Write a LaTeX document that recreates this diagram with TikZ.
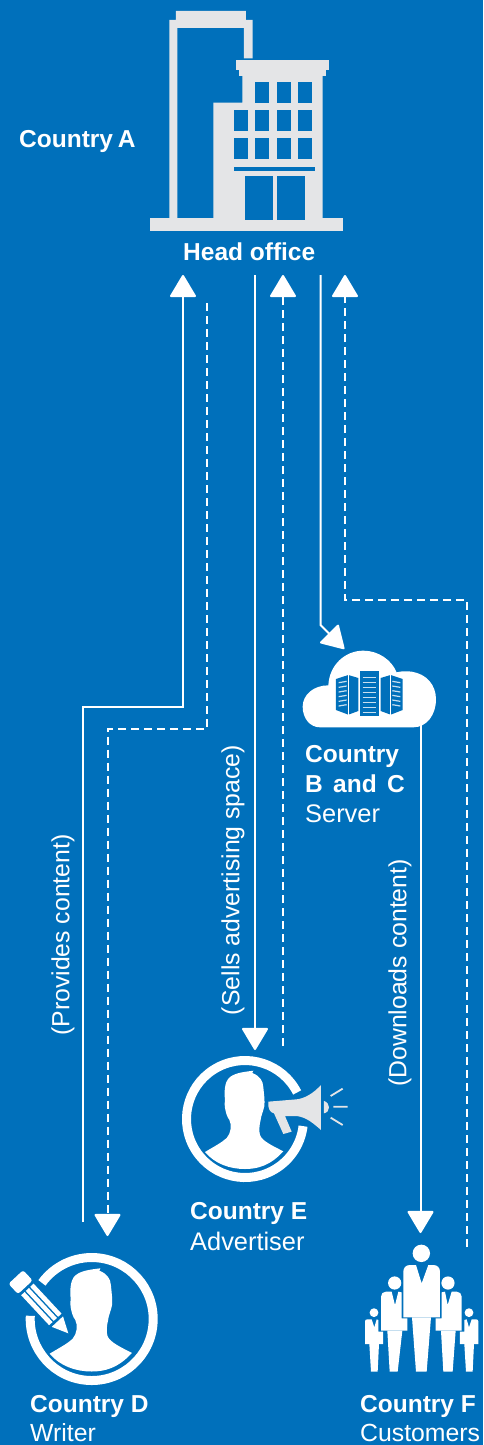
\documentclass[tikz,border=0pt]{standalone}
\usepackage{fontspec}
\setmainfont{Liberation Sans}
\usetikzlibrary{arrows.meta}
\definecolor{bg}{HTML}{0070BB}
\definecolor{lg}{HTML}{E4E5E7}
\definecolor{st}{HTML}{C9E0F0}
\tikzset{
  lab/.style={text=white,font=\fontsize{25.4}{27}\selectfont,anchor=base west,inner sep=0pt},
  labs/.style={lab,font=\fontsize{24.8}{27}\selectfont},
  labb/.style={text=white,font=\fontsize{24.5}{27}\selectfont\bfseries,anchor=base west,inner sep=0pt},
  rot/.style={text=white,font=\fontsize{24.8}{27}\selectfont,rotate=90,inner sep=0pt},
  link/.style={draw=white,line width=2pt},
  flow/.style={link,-{Triangle[width=27pt,length=23pt,round=false]}},
  flowd/.style={flow,dash pattern=on 8pt off 5pt},
  zoomed/.style={x=0.3333pt,y=-0.3333pt},
}
\newcommand{\personshape}{%
  \fill[white] (-40,33) .. controls (-30,27) and (-24,24) .. (-18.3,19)
    .. controls (-14,14) and (-13,6) .. (-15.7,0.7)
    .. controls (-18,-2) and (-19,-6) .. (-20,-11)
    .. controls (-21,-14) and (-20,-16) .. (-20,-19)
    .. controls (-21,-28) and (-20,-36) .. (-17,-40)
    .. controls (-12,-46) and (-2,-47) .. (8.3,-48.3)
    -- (7.3,-46)
    .. controls (15,-43) and (18,-38) .. (18.3,-32)
    .. controls (19,-25) and (20,-18) .. (19.3,-12.7)
    .. controls (18,-7) and (16,-3) .. (15.7,0.7)
    .. controls (14,8) and (14,12) .. (15,16)
    .. controls (17,22) and (28,27) .. (38.3,32.3)
    .. controls (25,47) and (12,50) .. (0,50)
    .. controls (-15,50) and (-30,45) .. (-40,33) -- cycle;
}
\begin{document}
\begin{tikzpicture}[x=1pt,y=-1pt]
\useasboundingbox (0,0) rectangle (483,1445);
\fill[bg] (0,0) rectangle (483,1445);

% ---- building
\begin{scope}[shift={(130,0)},zoomed]
\fill[lg] (118,60) -- (138,60) -- (138,33) -- (348,33) -- (348,60) -- (368,60) -- (368,175) -- (342,175) -- (342,84) -- (142,84) -- (142,655) -- (118,655) -- cycle;
\fill[lg] (61,655) rectangle (639,692);
\fill[lg] (318,180) rectangle (597,210);
\fill[lg] (327,210) rectangle (588,228);
\fill[lg] (337,228) -- (578,228) -- (578,660) -- (250,660) -- (250,308) -- (337,308) -- cycle;
\foreach \xa/\xb in {376/418,440/482,504/545} \fill[bg] (\xa,245) rectangle (\xb,310);
\foreach \xa/\xb in {312/354,376/418,440/482,504/545} {
  \fill[bg] (\xa,329) rectangle (\xb,394);
  \fill[bg] (\xa,413) rectangle (\xb,478);
}
\fill[bg] (312,500) rectangle (555,512);
\fill[bg] (346,528) rectangle (429,660);
\fill[bg] (441,528) rectangle (524,660);
\end{scope}

% ---- cloud
\begin{scope}[shift={(290,610)},zoomed]
\fill[white] (90,352) .. controls (60,352) and (38,325) .. (38,290)
  .. controls (38,255) and (70,226) .. (115,226)
  .. controls (118,165) and (165,122) .. (220,122)
  .. controls (265,122) and (305,150) .. (320,187)
  .. controls (335,183) and (350,183) .. (365,185)
  .. controls (410,192) and (438,225) .. (438,268)
  .. controls (438,315) and (410,352) .. (370,352) -- cycle;
\fill[bg] (211,183) rectangle (266,317);
\fill[bg] (138,207) -- (175,195) -- (205,204) -- (205,303) -- (175,314) -- (138,300) -- cycle;
\fill[bg] (272,204) -- (302,195) -- (338,207) -- (338,300) -- (302,314) -- (272,303) -- cycle;
\draw[white,line width=0.8pt] (176,195) -- (176,314) (301,195) -- (301,314);
\foreach \yy in {203,218,232,247,262,277,292,307} \draw[st,line width=1.3pt] (218,\yy) -- (259,\yy);
\foreach \yy in {218,232,246,260,274,288} {
  \draw[st,line width=1.2pt] (146,\yy) -- (170,\yy-4);
  \draw[st,line width=1.2pt] (307,\yy-4) -- (331,\yy);
}
\end{scope}

% ---- advertiser
\begin{scope}[shift={(245,1119)}]
\draw[white,line width=9pt] (-27:58.5) arc[start angle=-27,end angle=-353,radius=58.5];
\personshape
\end{scope}
\begin{scope}[shift={(170,1030)},zoomed]
\fill[lg] (295,215) -- (380,208) .. controls (405,205) and (430,190) .. (453,165) -- (453,300)
  .. controls (430,280) and (410,262) .. (380,258) -- (345,258) -- (365,305) -- (340,312) -- (312,250)
  .. controls (300,248) and (293,235) .. (295,215) -- cycle;
\fill[lg] (462,213) .. controls (472,216) and (477,224) .. (477,232) .. controls (477,240) and (472,248) .. (462,250) -- cycle;
\draw[lg,line width=1.8pt] (482,198) -- (518,176) (490,230) -- (533,230) (482,263) -- (518,285);
\end{scope}

% ---- writer
\begin{scope}[shift={(91.7,1319)}]
\draw[white,line width=9pt] (-177:61.5) arc[start angle=-177,end angle=-504,radius=61.5];
\begin{scope}[scale=1.05]\personshape\end{scope}
\end{scope}
\begin{scope}[shift={(68.3,1333.3)},rotate=133]
\fill[white] (0,0) -- (16,-7.7) -- (16,7.7) -- cycle;
\fill[white] (19,-8.5) rectangle (60,-3.8);
\fill[white] (19,-2.2) rectangle (60,2.2);
\fill[white] (19,3.8) rectangle (60,8.5);
\fill[white,rounded corners=2.5pt] (63,-10) rectangle (77,10);
\end{scope}

% ---- customers
\begin{scope}[shift={(350,1200)},zoomed]
\fill[white] (214,160) circle[radius=8.7pt];
\fill[white] (160,352) -- (160,215) .. controls (160,203) and (168,195) .. (180,195) -- (198,195) -- (215,250) -- (235,195) -- (250,195) .. controls (262,195) and (270,203) .. (270,215) -- (270,352) -- cycle;
\fill[white] (186,352) -- (243,352) -- (230,515) -- (198,515) -- cycle;
% medium left
\fill[white] (134,249) circle[radius=6.6pt];
\fill[white] (93,392) -- (93,290) .. controls (93,281) and (99,275) .. (108,275) -- (125,275) -- (135,315) -- (145,275) -- (155,277) -- (155,355) -- (172,355) -- (172,392) -- cycle;
\fill[white] (112,392) -- (157,392) -- (143,515) -- (119,515) -- cycle;
% medium right
\fill[white] (294,249) circle[radius=6.6pt];
\fill[white] (335,392) -- (335,290) .. controls (335,281) and (329,275) .. (320,275) -- (305,275) -- (293,315) -- (285,275) -- (275,277) -- (275,355) -- (257,355) -- (257,392) -- cycle;
\fill[white] (273,392) -- (317,392) -- (308,515) -- (280,515) -- cycle;
% small left
\fill[white] (72,338) circle[radius=4.4pt];
\fill[white] (45,432) -- (45,364) .. controls (45,360) and (48,358) .. (52,358) -- (65,358) -- (73,382) -- (80,358) -- (85,360) -- (85,395) -- (99,395) -- (99,432) -- cycle;
\fill[white] (58,432) -- (87,432) -- (83,515) -- (63,515) -- cycle;
% small right
\fill[white] (357,338) circle[radius=4.4pt];
\fill[white] (385,432) -- (385,364) .. controls (385,360) and (382,358) .. (378,358) -- (365,358) -- (357,382) -- (350,358) -- (343,360) -- (343,395) -- (330,395) -- (330,432) -- cycle;
\fill[white] (343,432) -- (372,432) -- (368,515) -- (348,515) -- cycle;
\end{scope}

% ---- labels
\node[labb] (ca) at (19,147) {Country\hspace{0.2em}A};
\node[labb] (ho) at (183,260) {Head office};
\node[labb] (cb1) at (305,762) {Country};
\node[labb] (cb2) at (305,792) {B\hspace{0.42em}and\hspace{0.42em}C};
\node[lab] (cb3) at (305,822) {Server};
\node[labb] (ce) at (190,1219) {Country E};
\node[lab] (ce2) at (190,1250) {Advertiser};
\node[labb] (cd) at (30,1412) {Country D};
\node[labs] (cd2) at (30,1441.5) {Writer};
\node[labb] (cf) at (360,1412) {Country F};
\node[labs] (cf2) at (360,1441.5) {Customers};
\node[rot] (lp) at (63,935) {(Provides content)};
\node[rot] (ls) at (233,880) {(Sells advertising space)};
\node[rot] (ld) at (400,973) {(Downloads content)};

% ---- connectors
\coordinate (a1) at (83,1222); \coordinate (a2) at (83,707); \coordinate (a3) at (183,707); \coordinate (a4) at (183,275);
\draw[flow] (a1) -- (a2) -- (a3) -- (a4);
\coordinate (b1) at (207,303); \coordinate (b2) at (207,729); \coordinate (b3) at (107.5,729); \coordinate (b4) at (107.5,1236);
\draw[flowd] (b1) -- (b2) -- (b3) -- (b4);
\coordinate (c1) at (255,275); \coordinate (c2) at (255,1050);
\draw[flow] (c1) -- (c2);
\coordinate (d1) at (283,1046); \coordinate (d2) at (283,275);
\draw[flowd] (d1) -- (d2);
\coordinate (e1) at (320.5,275); \coordinate (e2) at (320.5,625); \coordinate (e3) at (344.3,649);
\draw[flow] (e1) -- (e2) -- (e3);
\coordinate (f1) at (467,1247); \coordinate (f2) at (467,600); \coordinate (f3) at (345,600); \coordinate (f4) at (345,275);
\draw[flowd] (f1) -- (f2) -- (f3) -- (f4);
\coordinate (g1) at (420.5,725); \coordinate (g2) at (420.5,1233);
\draw[flow] (g1) -- (g2);
\end{tikzpicture}
\end{document}
